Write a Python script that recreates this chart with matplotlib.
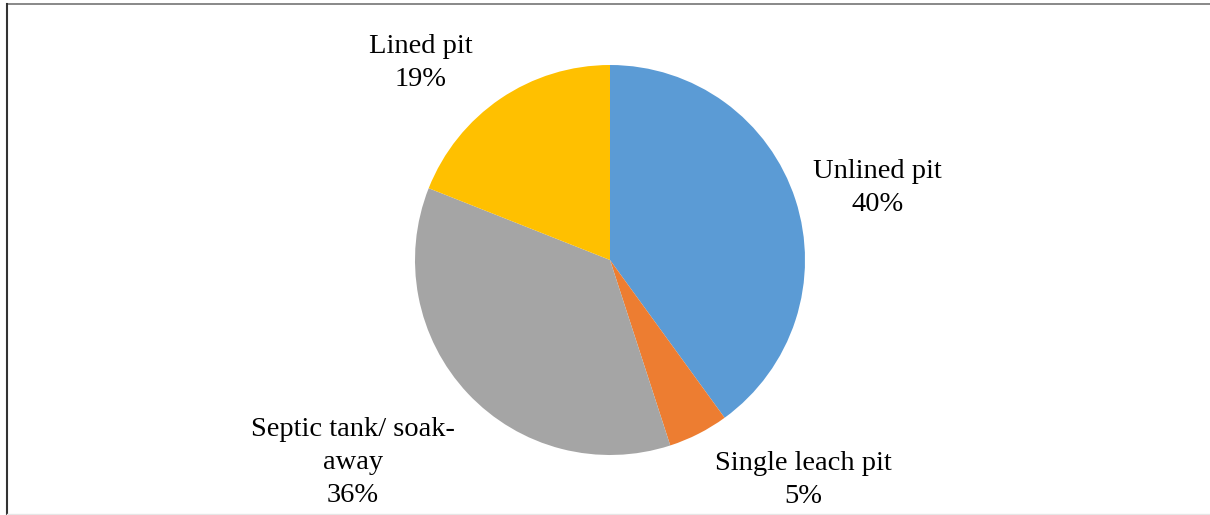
import matplotlib.pyplot as plt
from matplotlib.lines import Line2D

labels = ["Unlined pit", "Single leach pit", "Septic tank/ soak-\naway", "Lined pit"]
shares = [40, 5, 36, 19]
colors = ["#5B9BD5", "#ED7D31", "#A5A5A5", "#FFC000"]

# where each label sits (pie radius = 1)
label_pos = [(1.37, 0.37), (0.99, -1.13), (-1.32, -1.04), (-0.97, 1.01)]

plt.rcParams['font.family'] = ['Liberation Serif', 'DejaVu Serif']

W, H = 1210, 515
cx, cy, r = 610, 260, 195

fig = plt.figure(figsize=(W / 100, H / 100), dpi=100)
ax = fig.add_axes([0, 0, 1, 1])
ax.axis("off")

wedges, texts = ax.pie(shares, colors=colors, startangle=90, counterclock=False,
                       radius=1, wedgeprops=dict(linewidth=0))

ax.set_xlim(-cx / r, (W - cx) / r)
ax.set_ylim(-(H - cy) / r, cy / r)

for (lx, ly), lab, v in zip(label_pos, labels, shares):
    ax.text(lx, ly, "%s\n%d%%" % (lab, v), ha="center", va="center",
            fontsize=20.5, linespacing=1.42, color="#000000")

# frame lines around the chart area
fig.add_artist(Line2D([7 / W, 1], [1 - 4 / H, 1 - 4 / H], color="#7f7f7f", lw=1.3))
fig.add_artist(Line2D([7 / W, 7 / W], [0, 1 - 4 / H], color="#333333", lw=1.5))
fig.add_artist(Line2D([7 / W, 1], [1 / H, 1 / H], color="#e6e6e6", lw=1.0))

fig.savefig("out.png", dpi=100)
